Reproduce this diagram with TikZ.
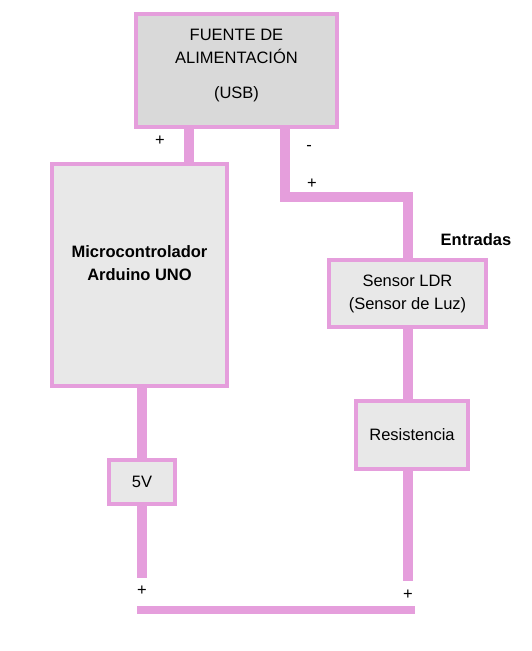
\documentclass[tikz,border=0pt]{standalone}
\usepackage{fontspec}
\setmainfont{Liberation Sans}
\definecolor{pinkline}{RGB}{229,158,220}
\definecolor{boxgray}{RGB}{232,232,232}
\definecolor{srcgray}{RGB}{217,217,217}

\begin{document}
\begin{tikzpicture}[x=1pt,y=-1pt]
\tikzset{block/.style = {draw=pinkline,line width=4pt,fill=boxgray,inner sep=0pt,align=center,font=\fontsize{16.5}{23}\selectfont}}
\tikzset{blocktext/.style = {align=center,inner sep=0pt,font=\fontsize{16.5}{23}\selectfont}}
\tikzset{link/.style = {draw=pinkline,line width=10pt}}
\tikzset{sign/.style = {font=\fontsize{16.5}{20}\selectfont}}
\useasboundingbox (0,0) rectangle (532,651);

% blocks
\node[block,fill=srcgray,minimum width=201pt,minimum height=113pt] (fuente) at (236.5,70.5) {};
\node[blocktext] (fuenteText) at ([yshift=4.6pt]fuente.center) {FUENTE DE\\ALIMENTACIÓN\\[12pt](USB)};
\node[block,minimum width=175pt,minimum height=222pt] (micro) at (139.5,275) {};
\node[blocktext,font=\fontsize{16.5}{23}\selectfont\bfseries] (microText) at ([yshift=12pt]micro.center) {Microcontrolador\\Arduino UNO};
\node[block,minimum width=66pt,minimum height=44pt] (volt) at (142,482) {5V};
\node[block,minimum width=157pt,minimum height=67pt] (ldr) at (407.5,293.5) {Sensor LDR\\(Sensor de Luz)};
\node[block,minimum width=112pt,minimum height=68pt] (res) at (412,435) {Resistencia};
\node[blocktext,font=\fontsize{16.5}{20}\selectfont\bfseries] (entradas) at (476,240) {Entradas};

% wiring
\coordinate (posTop) at (189,0);
\coordinate (negA) at (285,197);
\coordinate (negB) at (408,197);
\coordinate (leftEnd) at (142,578);
\coordinate (rightEnd) at (408,581);
\coordinate (busL) at (137,610);
\coordinate (busR) at (415,610);

\draw[link] (fuente.south -| posTop) -- (micro.north -| posTop);
\draw[link] (fuente.south -| negA) -- (negA) -- (negB) -- (ldr.north -| negB);
\draw[link] (ldr.south -| negB) -- (res.north -| negB);
\draw[link] (res.south -| negB) -- (rightEnd);
\draw[link] (micro.south -| volt.north) -- (volt.north);
\draw[link] (volt.south) -- (leftEnd);
\draw[link,line width=8pt] (busL) -- (busR);

% polarity signs
\node[sign] (s1) at (160,141) {+};
\node[sign] (s2) at (309,148) {-};
\node[sign] (s3) at (312,184) {+};
\node[sign] (s4) at (142,591) {+};
\node[sign] (s5) at (408,595) {+};
\end{tikzpicture}
\end{document}
